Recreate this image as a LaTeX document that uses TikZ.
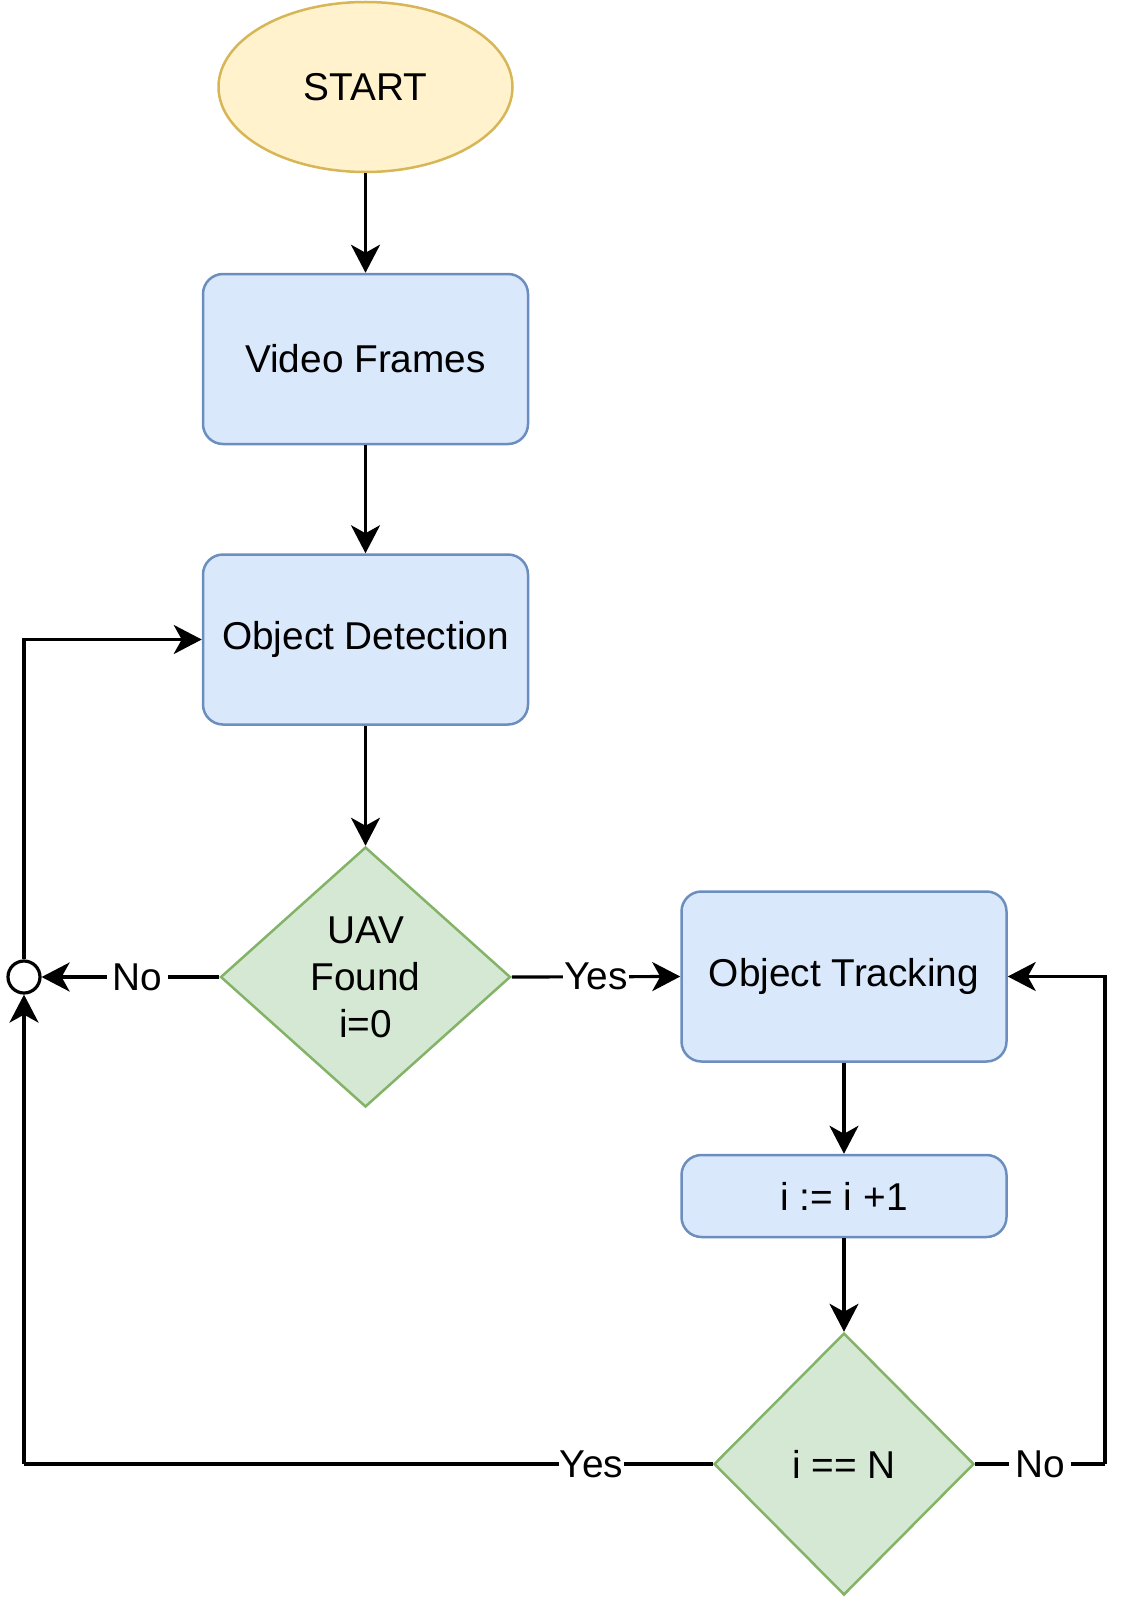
\documentclass[tikz,border=0pt]{standalone}
\usepackage{fontspec}
\setmainfont{Liberation Sans}
\usetikzlibrary{shapes.geometric,arrows.meta}
\definecolor{yfill}{HTML}{FFF2CC}
\definecolor{ydraw}{HTML}{D6B656}
\definecolor{bfill}{HTML}{DAE8FC}
\definecolor{bdraw}{HTML}{6C8EBF}
\definecolor{gfill}{HTML}{D5E8D4}
\definecolor{gdraw}{HTML}{82B366}
\tikzset{
  every node/.style={font=\fontsize{38.8}{47}\selectfont, text=black},
  startnode/.style={ellipse, draw=ydraw, fill=yfill, line width=2.5pt, minimum width=294pt, minimum height=170pt, inner sep=0pt},
  procbox/.style={rectangle, rounded corners=20pt, draw=bdraw, fill=bfill, line width=2.5pt, minimum width=325pt, minimum height=170pt, inner sep=0pt},
  decision/.style={diamond, draw=gdraw, fill=gfill, line width=2.5pt, inner sep=0pt, align=center},
  junction/.style={circle, draw=black, fill=white, line width=3.2pt, minimum size=32pt, inner sep=0pt},
  conn/.style={draw=black, line width=3.2pt, -{Stealth[length=28pt,width=29pt,inset=8pt]}},
  plain/.style={draw=black, line width=3.2pt},
  lbl/.style={fill=white, inner sep=6pt},
  lbly/.style={fill=white, inner xsep=1pt, inner ysep=4pt}
}
\begin{document}
\begin{tikzpicture}[x=1pt,y=-1pt]
\useasboundingbox (0,0) rectangle (1135,1600);
\node[startnode] (start) at (365.5,87) {START};
\node[procbox] (vf) at (365.5,359) {Video Frames};
\node[procbox] (od) at (365.5,639.5) {Object Detection};
\node[decision, minimum width=290pt, minimum height=260pt] (uav) at (365.5,977) {UAV\\Found\\i=0};
\node[procbox] (ot) at (844,976.5) {Object Tracking};
\node[procbox, minimum height=82pt] (inc) at (844,1196) {i := i +1};
\node[decision, minimum width=260pt, minimum height=262pt] (chk) at (844,1464) {i == N};
\node[junction] (j) at (24,977) {};
\coordinate (rc) at (1105,1464);
\coordinate (lc) at (24,1464);

\draw[conn] (start) -- (vf);
\draw[conn] (vf) -- (od);
\draw[conn] (od) -- (uav);
\draw[conn] (uav.east) -- node[lbly] {Yes} (ot.west);
\draw[conn] (uav.west) -- node[lbl, pos=0.46] {No} (j.east);
\draw[conn] (j.north) |- (od.west);
\draw[conn] (ot) -- (inc);
\draw[conn] (inc) -- (chk);
\draw[plain] (chk.east) -- node[lbl] {No} (rc);
\draw[conn] (rc) |- (ot.east);
\draw[plain] (chk.west) -- node[lbly, pos=0.176] {Yes} (lc);
\draw[conn] (lc) -- (j.south);
\end{tikzpicture}
\end{document}
